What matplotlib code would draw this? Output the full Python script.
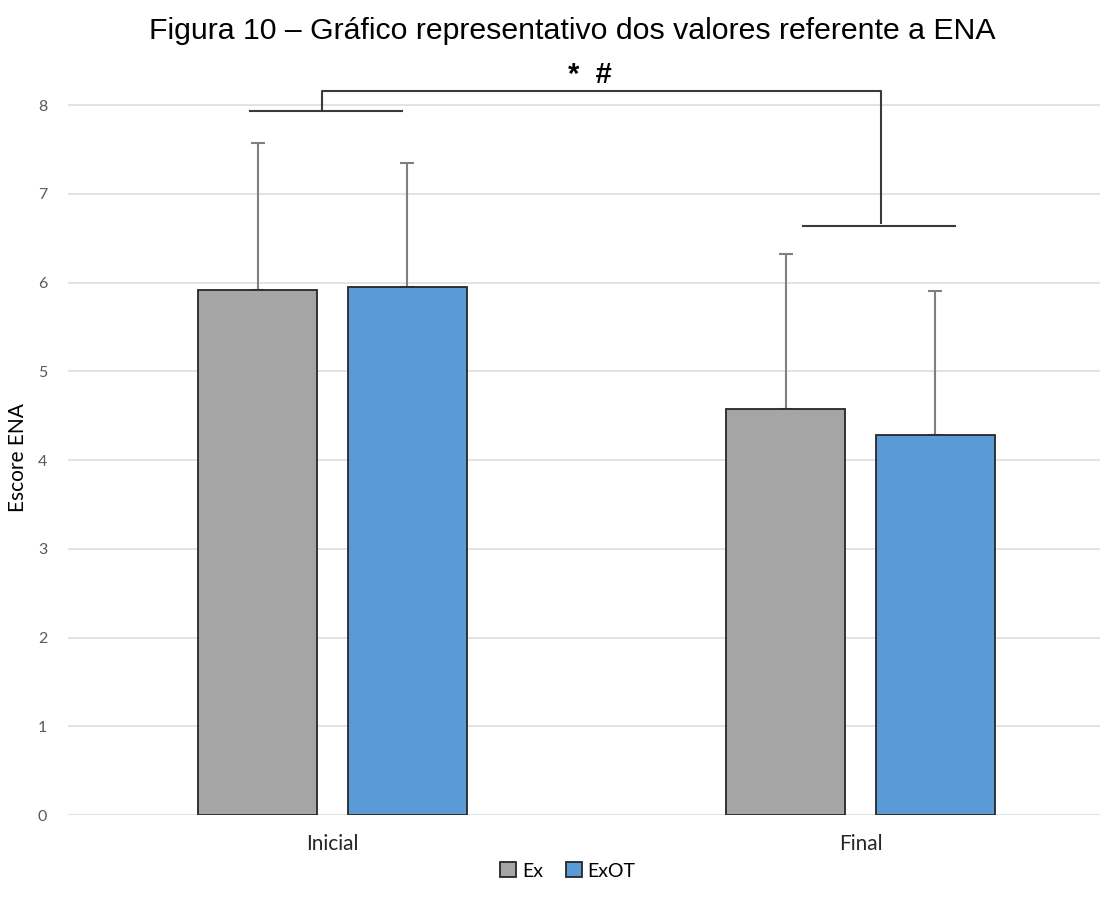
import numpy as np
import matplotlib
matplotlib.use('Agg')
import matplotlib.pyplot as plt

groups = ['Inicial', 'Final']
series = ['Ex', 'ExOT']
ex_mean = [5.91, 4.57]
exot_mean = [5.95, 4.28]
ex_err = [1.66, 1.75]
exot_err = [1.40, 1.62]
colors = ['#a5a5a5', '#5b9bd5']

fig = plt.figure(figsize=(11.14, 9.08), dpi=100)
ax = fig.add_axes([68 / 1114, 0.1024, (1100 - 68) / 1114, 0.943 - 0.1024])

x = np.arange(len(groups))
off = 0.142
w = 0.225
for i, (vals, errs) in enumerate([(ex_mean, ex_err), (exot_mean, exot_err)]):
    pos = x + (-off if i == 0 else off)
    ax.bar(pos, vals, w, color=colors[i], edgecolor='#262626', linewidth=1.3,
           label=series[i], zorder=3)
    ax.errorbar(pos, vals, yerr=[np.zeros(len(vals)), errs], fmt='none',
                ecolor='#808080', elinewidth=1.5, capsize=5, capthick=1.5, zorder=2)

ax.set_xlim(-0.501, 1.4536)
ax.set_ylim(0, 8.6)
ax.set_yticks(range(0, 9))
ax.grid(axis='y', color='#dedede', linewidth=1.2, zorder=0)
for s in ax.spines.values():
    s.set_visible(False)
ax.tick_params(axis='both', length=0)
ax.tick_params(axis='y', labelcolor='#595959', labelsize=11.5, pad=15)
ax.tick_params(axis='x', labelcolor='#262626', labelsize=15, pad=14)
ax.set_xticks(x)
ax.set_xticklabels(groups)
for lab in ax.get_xticklabels() + ax.get_yticklabels():
    lab.set_family('Lato')
ax.set_ylabel('Escore ENA', fontsize=15, family='Lato')
ax.yaxis.set_label_coords(-0.039, 0.468)

# significance brackets
k = dict(color='#3a3a3a', linewidth=1.5, clip_on=False)
ax.plot([-0.156, 0.132], [7.93, 7.93], **k)
ax.plot([0.891, 1.179], [6.64, 6.64], **k)
ax.plot([-0.020, -0.020, 1.038, 1.038], [7.93, 8.16, 8.16, 6.67], **k)
ax.text(0.488, 8.34, '*  #', ha='center', va='center', fontsize=21,
        fontweight='bold', family='Liberation Sans')

fig.legend(loc='center', bbox_to_anchor=(568 / 1114, 1 - 871 / 908), ncol=2,
           frameon=False, prop={'family': 'Lato', 'size': 14},
           handlelength=0.8, handleheight=0.8, handletextpad=0.3, columnspacing=1.2)

fig.text(0.514, 1 - 31 / 908, 'Figura 10 – Gráfico representativo dos valores referente a ENA',
         ha='center', va='center', fontsize=21.8, family='Liberation Sans')

fig.savefig('out.png', dpi=100)
